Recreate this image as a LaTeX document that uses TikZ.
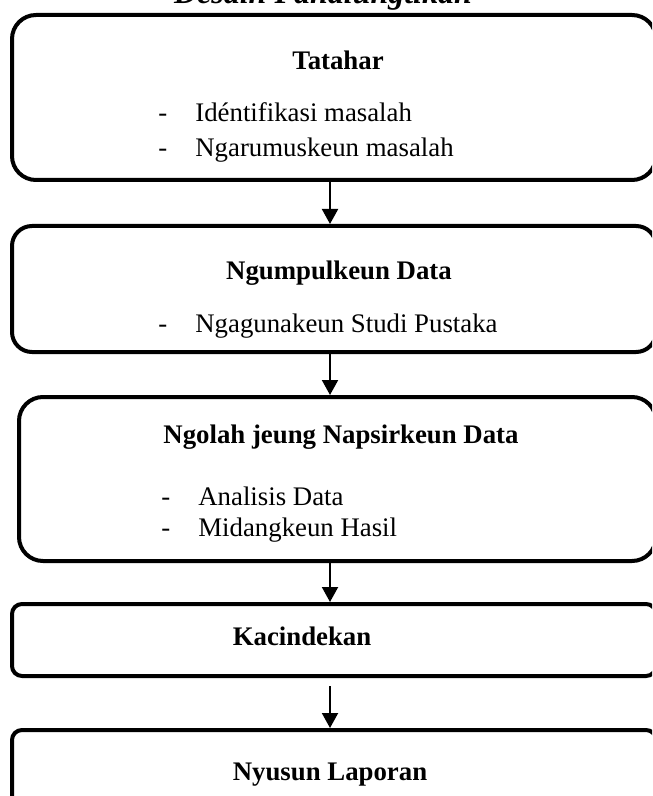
\documentclass[tikz,border=0pt]{standalone}
\usepackage{fontspec}
\setmainfont{Liberation Serif}
\usetikzlibrary{arrows.meta}

\newcommand{\butir}[1]{\makebox[18.5pt][l]{-}#1}

\begin{document}
\begin{tikzpicture}[x=0.5pt, y=-0.5pt,
  tahap/.style={draw, rectangle, line width=2pt, minimum width=322pt, inner sep=0pt},
  judul/.style={anchor=base, font=\fontsize{13.4}{16}\selectfont\bfseries},
  isi/.style={anchor=base west, inner sep=0pt, font=\fontsize{13.4}{16}\selectfont},
  panah/.style={line width=1pt, -{Triangle[width=8pt,length=7.5pt]}}]

  \useasboundingbox (0,0) rectangle (652,796);
  \clip (0,0) rectangle (652,796);

  % Title, cut by the top edge

  \node[anchor=base, font=\fontsize{16}{19}\selectfont\bfseries\itshape] (desain) at (323,4) {Desain Panalungtikan};

  % Stages of the research

  \node[tahap, rounded corners=12pt, minimum height=82.5pt] (tatahar) at (334,97.5) {};
  \node[judul] (tatahar-judul) at (338,70) {Tatahar};
  \node[isi] (tatahar-1) at (158,122) {\butir{Idéntifikasi masalah}};
  \node[isi] (tatahar-2) at (158,157) {\butir{Ngarumuskeun masalah}};

  \node[tahap, rounded corners=10pt, minimum height=63pt] (ngumpul) at (334,289) {};
  \node[judul] (ngumpul-judul) at (339,279) {Ngumpulkeun Data};
  \node[isi] (ngumpul-1) at (158,332) {\butir{Ngagunakeun Studi Pustaka}};

  \node[tahap, rounded corners=12pt, minimum width=318.5pt, minimum height=82pt] (ngolah) at (337.5,479) {};
  \node[judul] (ngolah-judul) at (341,443) {Ngolah jeung Napsirkeun Data};
  \node[isi] (ngolah-1) at (161,505) {\butir{Analisis Data}};
  \node[isi] (ngolah-2) at (161,536) {\butir{Midangkeun Hasil}};

  \node[tahap, rounded corners=5pt, minimum height=36pt] (kacindekan) at (334,640) {};
  \node[judul] (kacindekan-judul) at (302,645) {Kacindekan};

  \node[tahap, rounded corners=5pt, minimum height=50pt] (laporan) at (334,780) {};
  \node[judul] (laporan-judul) at (330,780) {Nyusun Laporan};

  % Arrows between the stages

  \coordinate (sumbu) at (330,0);
  \draw[panah] (tatahar.south -| sumbu) -- (ngumpul.north -| sumbu);
  \draw[panah] (ngumpul.south -| sumbu) -- (ngolah.north -| sumbu);
  \draw[panah] (ngolah.south -| sumbu) -- (kacindekan.north -| sumbu);
  \draw[panah, shorten <=4pt] (kacindekan.south -| sumbu) -- (laporan.north -| sumbu);

\end{tikzpicture}
\end{document}
